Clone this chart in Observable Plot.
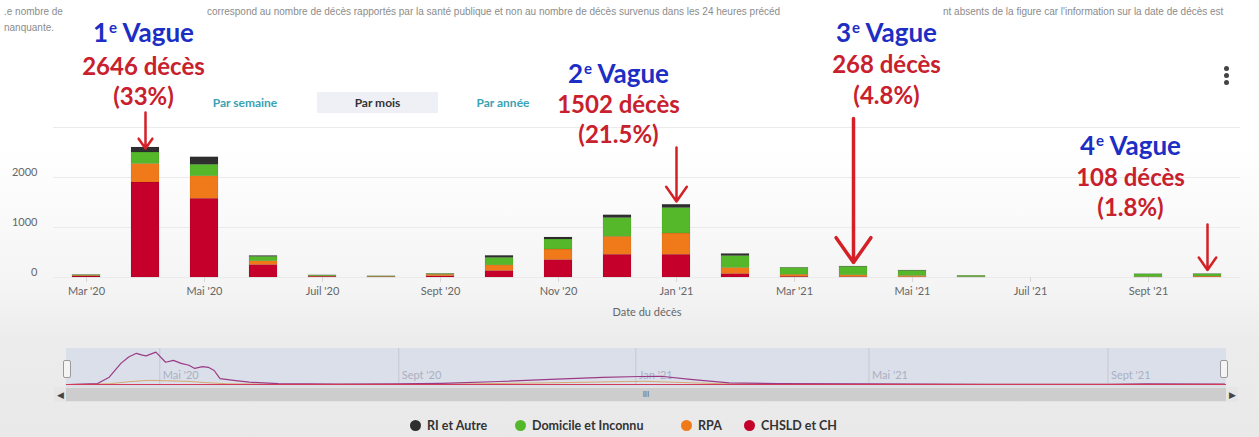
<!DOCTYPE html>
<html><head><meta charset="utf-8">
<script src="https://cdn.jsdelivr.net/npm/d3@7"></script>
<script src="https://cdn.jsdelivr.net/npm/@observablehq/plot@0.6"></script>
<style>
html,body{margin:0;padding:0;}
body{width:1259px;height:437px;overflow:hidden;font-family:Lato,"Open Sans",sans-serif;}
#page{position:relative;width:1259px;height:437px;overflow:hidden;
  background:linear-gradient(to bottom,#ffffff 0px,#ffffff 150px,#f4f4f4 290px,#ececec 340px,#e9e9e9 437px);}
.abs{position:absolute;}
.cap{font-family:"Liberation Sans",Arial,sans-serif;font-size:10px;color:#8c8c8c;white-space:nowrap;line-height:12px;}
.btn{font-family:Lato,sans-serif;font-size:12px;font-weight:700;color:#3aa2b3;text-align:center;line-height:21px;height:21px;}
.dot3{width:5px;height:5px;border-radius:50%;background:#444;}
.leg{font-family:Lato,sans-serif;font-size:12.5px;font-weight:700;color:#333;white-space:nowrap;display:flex;align-items:center;}
.leg i{display:inline-block;width:11px;height:11px;border-radius:50%;margin-right:6px;}
#navbg{left:66px;top:348px;width:1160px;height:39px;background:#dbdfe9;}
#track{left:54px;top:387px;width:1184px;height:15px;background:#e2e2e2;}
#thumb{left:66px;top:388px;width:1160px;height:13px;background:#cdcdcd;font-size:8px;color:#666;text-align:center;line-height:13px;}
.arr{top:387px;width:12px;height:15px;background:#e6e6e6;font-size:9px;color:#444;text-align:center;line-height:15px;}
.handle{top:360px;width:6px;height:16px;background:#f4f4f4;border:1px solid #9a9a9a;border-radius:2px;}
</style></head>
<body><div id="page">
  <div class="abs cap" style="left:4px;top:6px">.e nombre de</div>
  <div class="abs cap" style="left:207px;top:6px">correspond au nombre de décès rapportés par la santé publique et non au nombre de décès survenus dans les 24 heures précéd</div>
  <div class="abs cap" style="left:943px;top:6px">nt absents de la figure car l'information sur la date de décès est</div>
  <div class="abs cap" style="left:4px;top:22px">nanquante.</div>
  <div class="abs btn" style="left:195px;top:92px;width:100px">Par semaine</div>
  <div class="abs btn" style="left:317px;top:92px;width:121px;background:#eef0f6;color:#333">Par mois</div>
  <div class="abs btn" style="left:453px;top:92px;width:100px">Par année</div>
  <div class="abs dot3" style="left:1224px;top:66px"></div>
  <div class="abs dot3" style="left:1224px;top:73px"></div>
  <div class="abs dot3" style="left:1224px;top:80px"></div>
  <div id="navbg" class="abs"></div>
  <div id="track" class="abs"></div>
  <div id="thumb" class="abs">III</div>
  <div class="abs arr" style="left:54px">&#9664;</div>
  <div class="abs arr" style="left:1226px">&#9654;</div>
  <div id="chartHost"></div>
  <div id="navHost"></div>
  <div class="abs handle" style="left:63px"></div>
  <div class="abs handle" style="left:1220px"></div>
  <div id="legend"></div>
</div>
<script>
// ---------- data ----------
const months = ["2020-03","2020-04","2020-05","2020-06","2020-07","2020-08","2020-09","2020-10","2020-11","2020-12",
                "2021-01","2021-02","2021-03","2021-04","2021-05","2021-06","2021-07","2021-08","2021-09","2021-10"];
const monthLabels = ["Mar '20","Avr '20","Mai '20","Juin '20","Juil '20","Août '20","Sept '20","Oct '20","Nov '20","Déc '20",
                     "Jan '21","Févr '21","Mar '21","Avr '21","Mai '21","Juin '21","Juil '21","Août '21","Sept '21","Oct '21"];
const categories = ["RI et Autre","Domicile et Inconnu","RPA","CHSLD et CH"];
const catColors = ["#2e2e2e","#55b82b","#f07a1a","#c4002b"];
const chsld    = [20,1900,1575,250,15, 5, 25,130,350,455,455, 70, 15, 10,  5, 3,0,0, 3, 5];
const rpa      = [15, 370, 450, 75,10,10, 30,113,210,360,425,120, 40, 35, 25, 5,0,0, 5,15];
const domicile = [10, 230, 230, 90,15, 8, 15,150,200,375,510,240,135,170,105,25,0,0,55,45];
const ri       = [ 3, 100, 150, 15, 2, 1,  3, 40, 40, 55, 65, 40,  5,  5,  5, 1,0,0, 2, 2];
const yTicks = [0,1000,2000];
const gridTicks = [0,1000,2000,3000];

const waveNums   = ["1","2","3","4"];
const waveDeaths = ["2646","1502","268","108"];
const wavePct    = ["33%","21.5%","4.8%","1.8%"];
const waveMonth  = ["2020-04","2021-01","2021-04","2021-10"];

const navDates  = ["2020-03-15","2020-03-30","2020-04-05","2020-04-11","2020-04-15","2020-04-19","2020-04-22","2020-04-24","2020-04-29",
                   "2020-05-04","2020-05-08","2020-05-12","2020-05-16","2020-05-19","2020-05-23","2020-05-26","2020-05-29","2020-06-01",
                   "2020-06-08","2020-06-16","2020-07-01","2020-08-01","2020-09-01","2020-09-23","2020-10-23","2020-11-18","2020-12-15",
                   "2021-01-03","2021-01-14","2021-01-29","2021-02-18","2021-03-15","2021-05-01","2021-07-01","2021-09-01","2021-09-21","2021-10-31"];
const navValues = [0,4,32,92,120,136,128,125,141, 97,105,92,84,70,78,75,61,26, 18,10,4,2,3,5,13,22,31, 35,36,22,7,4,3,1,1,3,2];
const navRpaDates  = ["2020-03-15","2020-04-05","2020-04-15","2020-04-25","2020-05-05","2020-05-15","2020-05-25","2020-06-05","2020-07-01",
                      "2020-10-01","2020-11-15","2021-01-05","2021-02-15","2021-04-01","2021-10-31"];
const navRpaValues = [0,3,12,18,16,14,8,3,1,2,7,14,3,1,1];
const navTickDates  = ["2020-05-01","2020-09-01","2021-01-01","2021-05-01","2021-09-01"];
const navTickLabels = ["Mai '20","Sept '20","Jan '21","Mai '21","Sept '21"];

// ---------- build ----------
const stackOrder = ["CHSLD et CH","RPA","Domicile et Inconnu","RI et Autre"];
const rows = months.flatMap((m,i)=>[
  {month:m, cat:"CHSLD et CH", v:chsld[i]},
  {month:m, cat:"RPA", v:rpa[i]},
  {month:m, cat:"Domicile et Inconnu", v:domicile[i]},
  {month:m, cat:"RI et Autre", v:ri[i]}
]).filter(d=>d.v>0);
const labelOf = Object.fromEntries(months.map((m,i)=>[m,monthLabels[i]]));
const xTicks = months.filter((m,i)=>i%2===0);

// annotation layout (in y-data units) — positions only, not data
const annTitleY = [4880,4060,4880,2620];
const annCountY = [4200,3440,4240,1980];
const annPctY   = [3600,2840,3620,1380];
const annArrowFrom = [3300,2600,3180,1060];
const annArrowTo   = [2580,1520, 300, 150];
const annDx = [-2,-58,33,-77];
const annArrowW = [2.5,2.5,3.5,2.5];

const waves = waveNums.map((n,i)=>({n, deaths:waveDeaths[i], pct:wavePct[i], month:waveMonth[i], i}));
const annMarks = waves.flatMap(w=>[
  Plot.text([w],{x:"month", y:()=>annTitleY[w.i], text:d=>`${d.n}e Vague`, dx:annDx[w.i], fill:"#1c2ec4",
     fontSize:26, fontWeight:700, fontFamily:"Lato, sans-serif"}),
  Plot.text([w],{x:"month", y:()=>annCountY[w.i], text:d=>`${d.deaths} décès`, dx:annDx[w.i], fill:"#c8202c",
     fontSize:24, fontWeight:700, fontFamily:"Lato, sans-serif"}),
  Plot.text([w],{x:"month", y:()=>annPctY[w.i], text:d=>`(${d.pct})`, dx:annDx[w.i], fill:"#c8202c",
     fontSize:24, fontWeight:700, fontFamily:"Lato, sans-serif"}),
  Plot.arrow([w],{x:"month", y1:()=>annArrowFrom[w.i], y2:()=>annArrowTo[w.i], stroke:"#d42128",
     strokeWidth:annArrowW[w.i], headLength:13, headAngle:70})
]);

const chart = Plot.plot({
  width:1259, height:330,
  marginLeft:53, marginRight:19, marginTop:0, marginBottom:53,
  style:{background:"transparent", fontFamily:"Lato, sans-serif", color:"#666", overflow:"visible"},
  x:{type:"band", domain:months, paddingInner:0.53, paddingOuter:0.265, axis:null},
  y:{domain:[0,5540], axis:null},
  color:{domain:categories, range:catColors},
  marks:[
    Plot.gridY(gridTicks,{stroke:"#ebebeb", strokeOpacity:1}),
    Plot.axisY(yTicks,{tickSize:0, tickPadding:16, dy:-5, fill:"#666", fontSize:11, label:null, tickFormat:d=>String(d)}),
    Plot.axisX(xTicks,{tickSize:5, tickPadding:5, stroke:"#d8d8d8", fill:"#666", fontSize:11,
        tickFormat:d=>labelOf[d], label:"Date du décès", labelAnchor:"center", labelOffset:38}),
    Plot.barY(rows,{x:"month", y:"v", fill:"cat", order:stackOrder, stroke:"rgba(0,0,0,0.12)", strokeWidth:0.6}),
    ...annMarks
  ]
});
chart.style.position="absolute"; chart.style.left="0px"; chart.style.top="0px";
document.getElementById("chartHost").appendChild(chart);

// superscript "e"
d3.select(chart).selectAll("text").filter(function(){return /^\d+e Vague$/.test(this.textContent);})
  .each(function(){
    const t=this.textContent; const n=t.replace(/e Vague$/,"");
    const sel=d3.select(this); sel.text(n);
    sel.append("tspan").attr("font-size",15).attr("dy",-9).attr("dx",1).text("e");
    sel.append("tspan").attr("dy",9).text(" Vague");
  });

// navigator
const navRows = navDates.map((d,i)=>({date:new Date(d), v:navValues[i]}));
const navRpa = navRpaDates.map((d,i)=>({date:new Date(d), v:navRpaValues[i]}));
const navTicks = navTickDates.map((d,i)=>({date:new Date(d), label:navTickLabels[i]}));
const nav = Plot.plot({
  width:1259, height:40, marginLeft:66, marginRight:33, marginTop:0, marginBottom:4,
  style:{background:"transparent", overflow:"visible", fontFamily:"Lato, sans-serif"},
  x:{type:"utc", domain:[new Date("2020-03-14"), new Date("2021-11-01")], axis:null},
  y:{domain:[0,157], axis:null},
  marks:[
    Plot.ruleX(navTicks,{x:"date", stroke:"#c3c8d4", strokeWidth:1}),
    Plot.text(navTicks,{x:"date", text:"label", frameAnchor:"bottom", dy:-6, dx:3, textAnchor:"start", fill:"#a9b0c2", fontSize:11}),
    Plot.lineY(navRpa,{x:"date", y:"v", stroke:"#d79a54", strokeWidth:1, strokeOpacity:0.8}),
    Plot.lineY(navRows,{x:"date", y:"v", stroke:"#9a3b86", strokeWidth:1.2}),
    Plot.ruleY([0],{stroke:"#d23a58", strokeWidth:1.2})
  ]
});
nav.style.position="absolute"; nav.style.left="0px"; nav.style.top="348px";
document.getElementById("navHost").appendChild(nav);

// legend
const legLeft = [410,515,681,744];
const lg = document.getElementById("legend");
categories.forEach((c,i)=>{
  const el=document.createElement("div");
  el.className="abs leg"; el.style.left=legLeft[i]+"px"; el.style.top="418px";
  el.innerHTML=`<i style="background:${catColors[i]}"></i>${c}`;
  lg.appendChild(el);
});
</script>
</body></html>
